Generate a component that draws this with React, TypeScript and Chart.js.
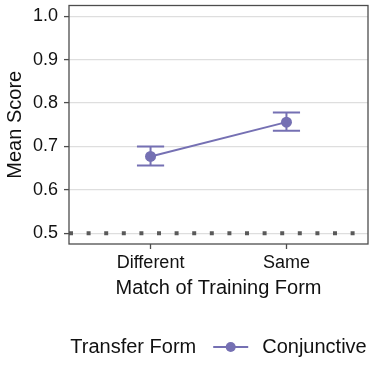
import React, { useEffect, useRef } from 'react';
import { Chart, registerables } from 'chart.js';

Chart.register(...registerables);

// ---- data ----
const categories = ['Different', 'Same'];
const categoryPositions = [1, 2];
const meanScores = [0.677, 0.756];
const upperBounds = [0.7, 0.778];
const lowerBounds = [0.656, 0.736];
const yTickValues = [0.5, 0.6, 0.7, 0.8, 0.9, 1.0];
const yLimits = [0.475, 1.025];
const xLimits = [0.4, 2.6];
const chanceLevel = 0.5;
const errorBarWidth = 0.2;
const seriesName = 'Conjunctive';
const legendTitle = 'Transfer Form';
const xTitle = 'Match of Training Form';
const yTitle = 'Mean Score';

// ---- styles ----
const FONT = '"Liberation Sans", Arial, Helvetica, sans-serif';
const SERIES_COLOR = '#7570B3';
const TEXT_COLOR = '#111111';
const AXIS_COLOR = '#4d4d4d';

const errorBarPlugin = {
  id: 'errorBars',
  afterDatasetsDraw(chart: any) {
    const { ctx, scales } = chart;
    const x = scales.x;
    const y = scales.y;
    ctx.save();
    ctx.strokeStyle = SERIES_COLOR;
    ctx.lineWidth = 2;
    categoryPositions.forEach((cx, i) => {
      const px = x.getPixelForValue(cx);
      const left = x.getPixelForValue(cx - errorBarWidth / 2);
      const right = x.getPixelForValue(cx + errorBarWidth / 2);
      const top = y.getPixelForValue(upperBounds[i]);
      const bot = y.getPixelForValue(lowerBounds[i]);
      ctx.beginPath();
      ctx.moveTo(px, top);
      ctx.lineTo(px, bot);
      ctx.moveTo(left, top);
      ctx.lineTo(right, top);
      ctx.moveTo(left, bot);
      ctx.lineTo(right, bot);
      ctx.stroke();
    });
    ctx.restore();
  },
};

const panelBorderPlugin = {
  id: 'panelBorder',
  afterDraw(chart: any) {
    const { ctx, chartArea } = chart;
    ctx.save();
    ctx.strokeStyle = AXIS_COLOR;
    ctx.lineWidth = 1.3;
    ctx.strokeRect(
      chartArea.left,
      chartArea.top,
      chartArea.right - chartArea.left,
      chartArea.bottom - chartArea.top
    );
    ctx.restore();
  },
};

const legendPlugin = {
  id: 'customLegend',
  afterDraw(chart: any) {
    const { ctx, chartArea } = chart;
    const cy = chart.scales.x.bottom + 47;
    ctx.save();
    ctx.font = `20px ${FONT}`;
    const tw = ctx.measureText(legendTitle).width;
    const lw = ctx.measureText(seriesName).width;
    const keyW = 35;
    const gap1 = 17;
    const gap2 = 14;
    const total = tw + gap1 + keyW + gap2 + lw;
    let x0 = (chartArea.left + chartArea.right) / 2 - total / 2;
    ctx.fillStyle = TEXT_COLOR;
    ctx.textBaseline = 'middle';
    ctx.textAlign = 'left';
    ctx.fillText(legendTitle, x0, cy);
    x0 += tw + gap1;
    ctx.strokeStyle = SERIES_COLOR;
    ctx.lineWidth = 2;
    ctx.beginPath();
    ctx.moveTo(x0, cy);
    ctx.lineTo(x0 + keyW, cy);
    ctx.stroke();
    ctx.fillStyle = SERIES_COLOR;
    ctx.beginPath();
    ctx.arc(x0 + keyW / 2, cy, 5, 0, Math.PI * 2);
    ctx.fill();
    x0 += keyW + gap2;
    ctx.fillStyle = TEXT_COLOR;
    ctx.fillText(seriesName, x0, cy);
    ctx.restore();
  },
};

export default function App() {
  const canvasRef = useRef<HTMLCanvasElement | null>(null);

  useEffect(() => {
    document.body.style.margin = '0';
    const canvas = canvasRef.current;
    if (!canvas) return;
    const chart = new Chart(canvas, {
      type: 'line',
      data: {
        datasets: [
          {
            label: seriesName,
            data: categoryPositions.map((x, i) => ({ x, y: meanScores[i] })),
            borderColor: SERIES_COLOR,
            backgroundColor: SERIES_COLOR,
            borderWidth: 2,
            pointRadius: 5.5,
            pointBorderWidth: 0,
            pointBackgroundColor: SERIES_COLOR,
            order: 1,
          },
          {
            label: 'chance',
            data: xLimits.map((x) => ({ x, y: chanceLevel })),
            borderColor: '#5a5a5a',
            borderWidth: 4,
            borderDash: [4, 13.6],
            borderCapStyle: 'butt',
            pointRadius: 0,
            order: 2,
          },
        ],
      },
      options: {
        animation: false,
        responsive: false,
        devicePixelRatio: 1,
        layout: { padding: { left: 0, top: 5, right: 6, bottom: 74 } },
        plugins: {
          legend: { display: false },
          tooltip: { enabled: false },
        },
        scales: {
          x: {
            type: 'linear',
            min: xLimits[0],
            max: xLimits[1],
            afterBuildTicks: (s: any) => {
              s.ticks = categoryPositions.map((v) => ({ value: v }));
            },
            afterFit: (s: any) => {
              s.height = 56;
              s.paddingLeft = 0;
              s.paddingRight = 0;
            },
            ticks: {
              autoSkip: false,
              maxRotation: 0,
              padding: 3,
              color: TEXT_COLOR,
              font: { family: FONT, size: 18 },
              callback: (v: any) => {
                const idx = categoryPositions.indexOf(Number(v));
                return idx >= 0 ? categories[idx] : '';
              },
            },
            grid: {
              drawOnChartArea: false,
              drawTicks: true,
              tickLength: 5,
              tickColor: AXIS_COLOR,
              tickWidth: 1.3,
            },
            border: { display: false },
            title: {
              display: true,
              text: xTitle,
              color: TEXT_COLOR,
              font: { family: FONT, size: 20 },
              padding: 0,
            },
          },
          y: {
            type: 'linear',
            min: yLimits[0],
            max: yLimits[1],
            afterBuildTicks: (s: any) => {
              s.ticks = yTickValues.map((v) => ({ value: v }));
            },
            afterFit: (s: any) => {
              s.width = 69;
              s.paddingTop = 0;
              s.paddingBottom = 0;
            },
            ticks: {
              padding: 6,
              color: TEXT_COLOR,
              font: { family: FONT, size: 18 },
              callback: (v: any) => Number(v).toFixed(1),
            },
            grid: {
              color: '#dedede',
              lineWidth: 1.2,
              drawTicks: true,
              tickLength: 5,
              tickColor: AXIS_COLOR,
              tickWidth: 1.3,
            },
            border: { display: false },
            title: {
              display: true,
              text: yTitle,
              color: TEXT_COLOR,
              font: { family: FONT, size: 20 },
              padding: { top: 3, bottom: 0 },
            },
          },
        },
      },
      plugins: [errorBarPlugin, panelBorderPlugin, legendPlugin],
    } as any);
    return () => chart.destroy();
  }, []);

  return (
    <div style={{ width: 374, height: 374 }}>
      <canvas ref={canvasRef} width={374} height={374} />
    </div>
  );
}
